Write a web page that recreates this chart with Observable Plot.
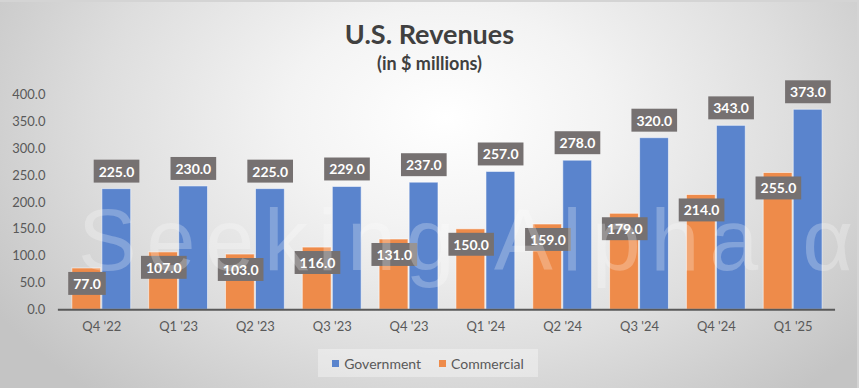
<!DOCTYPE html>
<html>
<head>
<meta charset="utf-8">
<script src="https://cdn.jsdelivr.net/npm/d3@7"></script>
<script src="https://cdn.jsdelivr.net/npm/@observablehq/plot@0.6"></script>
<style>
  html, body { margin: 0; padding: 0; background: #fff; }
  #chart {
    position: relative; width: 859px; height: 388px; overflow: hidden;
    background: radial-gradient(ellipse 62% 95% at 52% 30%, #ffffff 0%, #f3f3f3 30%, #dedede 65%, #c4c4c4 100%);
    font-family: Lato, "Noto Sans", sans-serif; box-sizing: border-box;
    border-top: 2px solid #d4d4d4; border-right: 2px solid #d4d4d4;
  }
  #chart svg.plot { position: absolute; left: 0; top: -2px; }
  .title { position: absolute; left: 0; width: 859px; text-align: center; color: #404040; font-weight: 700; }
  #t1 { top: 15px; font-size: 27px; }
  #t2 { top: 50px; font-size: 18px; }
  #legend { position: absolute; left: 318px; top: 347px; width: 220px; height: 28px;
    background: rgba(255,255,255,0.35); display: flex; align-items: center; justify-content: center;
    gap: 18px; font-size: 14px; color: #595959; }
  .li { display: flex; align-items: center; gap: 5px; }
  .sw { width: 7px; height: 7px; display: inline-block; }
  #wm { position: absolute; left: 0; top: -2px; pointer-events: none; }
</style>
</head>
<body>
<div id="chart">
  <div class="title" id="t1">U.S. Revenues</div>
  <div class="title" id="t2">(in $ millions)</div>
</div>
<script>
const quarters = ["Q4 '22", "Q1 '23", "Q2 '23", "Q3 '23", "Q4 '23", "Q1 '24", "Q2 '24", "Q3 '24", "Q4 '24", "Q1 '25"];
const government = [225, 230, 225, 229, 237, 257, 278, 320, 343, 373];
const commercial = [77, 107, 103, 116, 131, 150, 159, 179, 214, 255];
const yTicks = [0, 50, 100, 150, 200, 250, 300, 350, 400];
const seriesNames = ["Government", "Commercial"];
const seriesColors = ["#5A84CD", "#EE8B4A"];
const watermark = "Seeking Alpha α";

const W = 859, H = 388, ML = 58, MR = 22, MT = 95, MB = 78;
const padIn = 0.24, padOut = 0.12;
const bw = d3.scaleBand(quarters, [ML, W - MR]).paddingInner(padIn).paddingOuter(padOut).bandwidth();

const govData = quarters.map((q, i) => ({quarter: q, value: government[i]}));
const comData = quarters.map((q, i) => ({quarter: q, value: commercial[i]}));

const plot = Plot.plot({
  width: W, height: H,
  marginTop: MT, marginBottom: MB, marginLeft: ML, marginRight: MR,
  style: {background: "transparent", fontFamily: "Lato, 'Noto Sans', sans-serif", fontSize: "13px", color: "#595959", overflow: "visible"},
  x: {domain: quarters, paddingInner: padIn, paddingOuter: padOut, tickSize: 0, tickPadding: 12, label: null},
  y: {domain: [0, 400], ticks: yTicks, tickFormat: d => d.toFixed(1), tickSize: 0, tickPadding: 13, label: null},
  marks: [
    Plot.barY(comData, {x: "quarter", y: "value", fill: seriesColors[1], stroke: "#ffffff", strokeOpacity: 0.55, strokeWidth: 1, insetRight: bw / 2 + 0.5}),
    Plot.barY(govData, {x: "quarter", y: "value", fill: seriesColors[0], stroke: "#ffffff", strokeOpacity: 0.55, strokeWidth: 1, insetLeft: bw / 2 + 0.5}),
    Plot.ruleY([0], {stroke: "#595959", strokeWidth: 2}),
    Plot.text(govData, {x: "quarter", y: "value", text: d => d.value.toFixed(1), dx: bw / 4, dy: -17, fill: "#ffffff", fontWeight: "bold", fontSize: 14}),
    Plot.text(comData, {x: "quarter", y: "value", text: d => d.value.toFixed(1), dx: -bw / 4, dy: 16, fill: "#ffffff", fontWeight: "bold", fontSize: 14})
  ]
});
plot.classList.add("plot");
const chart = document.getElementById("chart");
chart.appendChild(plot);

// label boxes behind value labels (text-mark groups only, not axes)
const labelGroups = Array.from(plot.querySelectorAll("g")).filter(g => {
  const a = (g.getAttribute("aria-label") || "");
  return a === "text";
});
labelGroups.forEach(g => {
  Array.from(g.querySelectorAll("text")).forEach(t => {
    const b = t.getBBox();
    const r = document.createElementNS("http://www.w3.org/2000/svg", "rect");
    const cy = b.y + b.height / 2;
    r.setAttribute("x", b.x - 5);
    r.setAttribute("y", cy - 11.5);
    r.setAttribute("width", b.width + 10);
    r.setAttribute("height", 23);
    r.setAttribute("fill", "#767171");
    r.setAttribute("stroke", "none");
    if (t.getAttribute("transform")) r.setAttribute("transform", t.getAttribute("transform"));
    t.parentNode.insertBefore(r, t);
  });
});

// watermark
const wm = d3.select(chart).append("svg").attr("id", "wm").attr("width", W).attr("height", H);
wm.append("text").attr("x", 78).attr("y", 270).attr("textLength", 775).attr("lengthAdjust", "spacing")
  .attr("font-family", "'Liberation Sans', Arial, sans-serif").attr("font-size", 88)
  .attr("fill", "#ffffff").attr("fill-opacity", 0.25).text(watermark);

// legend
const leg = d3.select(chart).append("div").attr("id", "legend");
seriesNames.forEach((n, i) => {
  const it = leg.append("div").attr("class", "li");
  it.append("span").attr("class", "sw").style("background", seriesColors[i]);
  it.append("span").text(n);
});
</script>
</body>
</html>
